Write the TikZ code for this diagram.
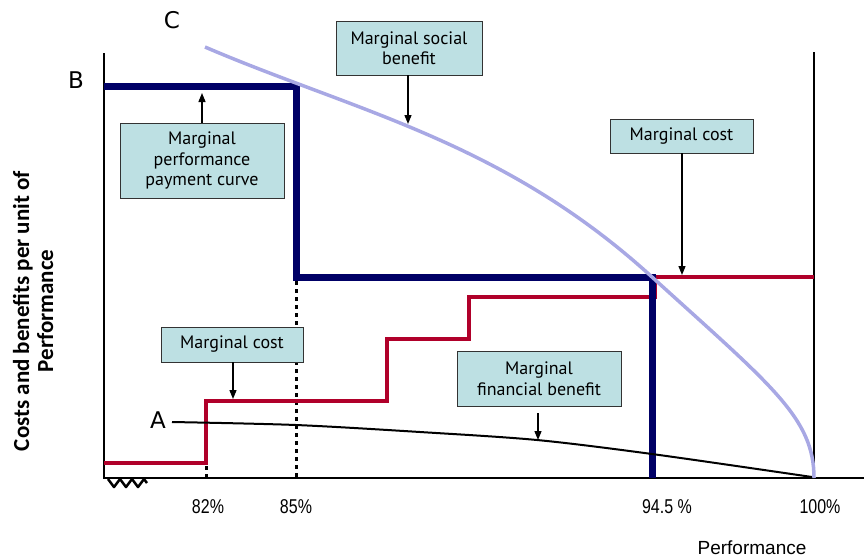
\documentclass[tikz,border=0pt]{standalone}
\usepackage{fontspec}
\setmainfont{PT Sans}
\newfontfamily\calfont{Carlito}
\newfontfamily\vfont{DejaVu Sans}
\newfontfamily\narrowfont[FakeStretch=0.8]{Liberation Sans}
\newfontfamily\arialfont{Liberation Sans}
\usetikzlibrary{arrows.meta}
\definecolor{navyline}{HTML}{000066}
\definecolor{costred}{HTML}{B0002A}
\definecolor{socialblue}{HTML}{A8A8E4}
\definecolor{boxfill}{HTML}{BDE0E3}
\begin{document}
\begin{tikzpicture}[x=1pt,y=-1pt]

    \tikzset{
      box/.style={
        draw=black!80,
        fill=boxfill,
        thick,
        align=center,
        inner sep=0pt,
        font=\fontsize{18}{20.5}\selectfont,
      },
      pointer/.style={
        -{Triangle[length=9pt,width=7pt]},
        line width=1.3pt,
        color=black,
      },
      letter/.style={
        font=\vfont\fontsize{23}{23}\selectfont,
      },
      pct/.style={
        font=\narrowfont\fontsize{20}{20}\selectfont,
      },
    }
    \useasboundingbox (0,0) rectangle (864,558);

	% axes
	\draw[color ={black},line width=2.5pt] (104,53)--(104,478)--(864,478);
	\draw[color ={black},line width=2.5pt] (814,52)--(814,478);
	\draw[color ={black},line width=2.5pt,line join=round] (108,479)--(114,487)--(120,479)--(126,487)--(132,479)--(138,487)--(144,479)--(147,483);

	% dotted guides
	\draw[color ={black},line width=3pt,dash pattern=on 4pt off 4pt] (296,281)--(296,478);
	\draw[color ={black},line width=3pt,dash pattern=on 4pt off 4pt] (206,466)--(206,478);

	% marginal cost steps
	\draw[color ={costred},line width=4pt] (104,463)--(206,463)--(206,401)--(387,401)--(387,339)--(469,339)--(469,297)--(655,297)--(655,277)--(814,277);

	% payment curve
	\draw[color ={navyline},line width=7pt] (104,86)--(296,86)--(296,277)--(652,277)--(652,478);

	% financial benefit
	\draw[color ={black},line width=2pt] plot[smooth] coordinates {(172,422) (296,425) (420,432) (537,440) (652,454) (812,477)};

	% social benefit
	\draw[color ={socialblue},line width=3.5pt] (205,47) .. controls (354,111) and (503,141) .. (652,277)
	  .. controls (772,386) and (814,418) .. (814,478);

	% letters
	\draw [color={black}] (76,80) node[letter] (ptB) {B};
	\draw [color={black}] (172,20) node[letter] (ptC) {C};
	\draw [color={black}] (158,420) node[letter] (ptA) {A};

	% boxes
	\node[box,minimum width=164pt,minimum height=75pt] (perfbox) at (202,160.5) {Marginal\\performance\\payment curve};
	\node[box,minimum width=146pt,minimum height=54pt] (socialbox) at (409,48) {Marginal social\\benefit};
	\node[box,minimum width=143pt,minimum height=34pt] (costbox) at (681.5,136) {Marginal cost};
	\node[box,minimum width=142pt,minimum height=35pt] (stepbox) at (232,344.5) {Marginal cost};
	\node[box,minimum width=164pt,minimum height=55pt] (finbox) at (539,378.5) {Marginal\\financial benefit};

	\coordinate (perftip) at (202,93);
	\coordinate (socialtip) at (408,124);
	\coordinate (costtip) at (682,275);
	\coordinate (steptip) at (233,399);
	\coordinate (fintip) at (538,440);

	\draw[pointer] (perfbox.north) -- (perftip);
	\draw[pointer] (socialbox.south -| socialtip) -- (socialtip);
	\draw[pointer] (costbox.south -| costtip) -- (costtip);
	\draw[pointer] (stepbox.south -| steptip) -- (steptip);
	\draw[pointer,shorten <=7pt] (finbox.south -| fintip) -- (fintip);

	% percentages
	\node[pct] (p82) at (208,507) {82\%};
	\node[pct] (p85) at (296,507) {85\%};
	\node[pct] (p945) at (667,507) {94.5 \%};
	\node[pct] (p100) at (820,507) {100\%};
	\node[font=\arialfont\fontsize{19}{19}\selectfont] (perf) at (752,548) {Performance};

	% y axis title
	\node[rotate=90,align=center,font=\calfont\bfseries\fontsize{23}{24}\selectfont] (ytitle) at (33,311) {Costs and benefits per unit of\\Performance};

\end{tikzpicture}
\end{document}
